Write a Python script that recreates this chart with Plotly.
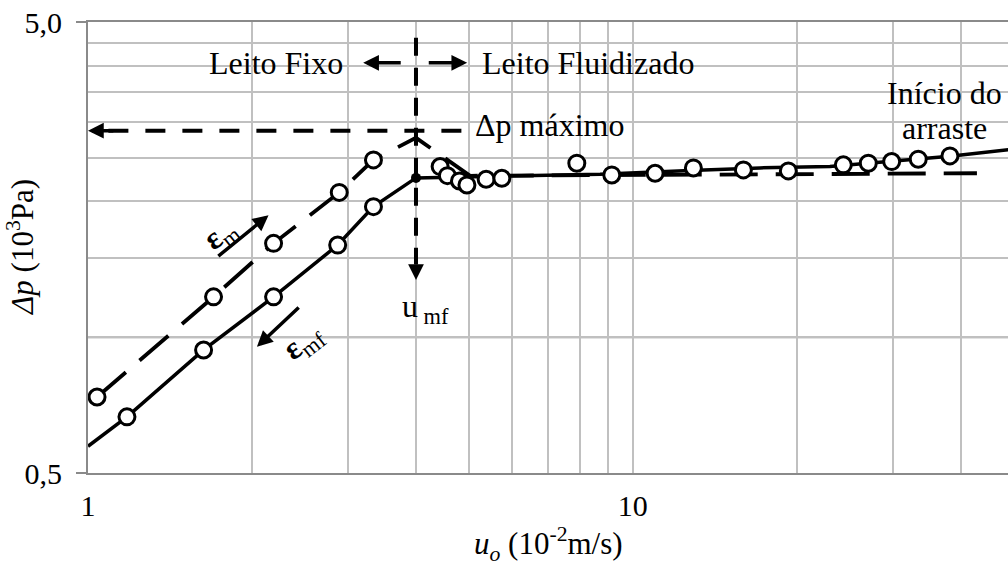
import math
import plotly.graph_objects as go

# ---- data -------------------------------------------------------------
# Fixed bed, increasing velocity (porosity εm)
u_fixo_m = [1.039, 1.700, 2.191, 2.892, 3.342]
dp_fixo_m = [0.737, 1.229, 1.615, 2.095, 2.473]

# Fixed bed, decreasing velocity (porosity εmf)
u_fixo_mf = [1.179, 1.630, 2.191, 2.873, 3.342]
dp_fixo_mf = [0.666, 0.937, 1.229, 1.601, 1.948]

# Minimum fluidization point and pressure-drop peak
u_mf = 4.0
dp_mf = 2.256
dp_pico = 2.768
dp_maximo = 2.87

# Fluidized bed measurements
u_fluid = [4.430, 4.568, 4.807, 4.961, 5.381, 5.750, 7.894, 9.151, 10.99,
           12.92, 15.96, 19.30, 24.35, 27.06, 29.87, 33.42, 38.21]
dp_fluid = [2.390, 2.282, 2.221, 2.176, 2.240, 2.252, 2.432, 2.290, 2.310,
            2.374, 2.350, 2.338, 2.411, 2.432, 2.452, 2.482, 2.524]

# Trend lines
u_linha_mf = [1.0] + u_fixo_mf + [u_mf, 5.708, 8.710, 12.74, 17.12, 23.01, 27.26, 38.21, 50.0]
dp_linha_mf = [0.573] + dp_fixo_mf + [dp_mf, 2.273, 2.297, 2.344, 2.374, 2.392, 2.432, 2.518, 2.612]

u_linha_m = u_fixo_m + [u_mf, 5.029, 14.46, 42.83]
dp_linha_m = dp_fixo_m + [dp_pico, 2.28, 2.29, 2.31]

# Axis ticks / grid
x_range = (1.0, 48.84)
y_range = (0.5, 5.0)
x_ticks = [1, 10]
x_ticktext = ["1", "10"]
x_grid = [2, 3, 4, 5, 6, 7, 8, 9, 20, 30, 40]
y_ticks = [0.5, 5.0]
y_ticktext = ["0,5", "5,0"]
y_grid = [1.0, 1.5, 2.0, 2.5, 3.0, 3.5, 4.0, 4.5]

# ---- style ------------------------------------------------------------
FONT = "Liberation Serif, Times New Roman, serif"
FS = 30      # tick labels
FS_TXT = 32  # annotations
FS_TIT = 31  # axis titles
GRID = "#c0c0c0"
AXIS = "#8a8a8a"
L = math.log10

fig = go.Figure()

fig.add_trace(go.Scatter(x=u_linha_mf, y=dp_linha_mf, mode="lines",
                         line=dict(color="black", width=3.5), hoverinfo="skip"))
fig.add_trace(go.Scatter(x=u_linha_m, y=dp_linha_m, mode="lines",
                         line=dict(color="black", width=3.8, dash="38px,18px"),
                         hoverinfo="skip"))

circle = dict(symbol="circle", size=16, color="white",
              line=dict(color="black", width=3))
fig.add_trace(go.Scatter(x=u_fixo_m, y=dp_fixo_m, mode="markers", marker=circle))
fig.add_trace(go.Scatter(x=u_fixo_mf, y=dp_fixo_mf, mode="markers", marker=circle))
fig.add_trace(go.Scatter(x=u_fluid, y=dp_fluid, mode="markers", marker=circle))
fig.add_trace(go.Scatter(x=[u_mf], y=[dp_mf], mode="markers",
                         marker=dict(symbol="circle", size=10, color="black")))

# ---- guide lines ------------------------------------------------------
shapes = [
    # horizontal axis crossing at Δp = 1
    dict(type="line", xref="paper", x0=0, x1=1, yref="y", y0=1, y1=1,
         line=dict(color=AXIS, width=2), layer="below"),
    # u_mf vertical dashed line
    dict(type="line", xref="x", x0=u_mf, x1=u_mf, yref="y", y0=4.614, y1=1.45,
         line=dict(color="black", width=4, dash="18px,12px")),
    # Δp máximo horizontal dashed line
    dict(type="line", xref="x", x0=1.09, x1=4.923, yref="y", y0=dp_maximo, y1=dp_maximo,
         line=dict(color="black", width=4, dash="20px,17px")),
]


def arrow(x, y, ax, ay):
    return dict(x=L(x), y=L(y), ax=L(ax), ay=L(ay), xref="x", yref="y",
                axref="x", ayref="y", text="", showarrow=True, arrowhead=2,
                arrowwidth=3.5, arrowsize=0.9, arrowcolor="black")


def label(text, x, y, angle=0, size=FS_TXT):
    return dict(x=L(x), y=L(y), xref="x", yref="y", text=text, showarrow=False,
                textangle=angle, font=dict(family=FONT, size=size, color="black"),
                xanchor="center", yanchor="middle")


annotations = [
    label("Leito Fixo", 2.211, 4.06),
    label("Leito Fluidizado", 8.264, 4.06),
    arrow(3.200, 4.06, 3.774, 4.06),
    arrow(4.966, 4.06, 4.195, 4.06),
    label("Δp máximo", 7.037, 2.956),
    arrow(1.0, dp_maximo, 1.12, dp_maximo),
    arrow(u_mf, 1.339, u_mf, 1.45),
    label("u<sub> mf</sub>", 4.157, 1.161),
    label("Início do", 37.41, 3.478),
    label("arraste", 37.33, 2.908),
    label("<b>ε</b><sub>m</sub>", 1.758, 1.690, angle=-38),
    arrow(2.145, 1.865, 1.724, 1.504),
    label("<b>ε</b><sub>mf</sub>", 2.489, 0.973, angle=-38),
    arrow(2.042, 0.952, 2.452, 1.172),
    # axis titles
    dict(x=-0.0735, y=0.5, xref="paper", yref="paper", showarrow=False,
         text="<i>Δp</i> (10<sup>3</sup>Pa)", textangle=-90,
         font=dict(family=FONT, size=FS_TIT, color="black"),
         xanchor="center", yanchor="middle"),
    dict(x=0.501, y=-0.158, xref="paper", yref="paper", showarrow=False,
         text="<i>u<sub>o</sub></i> (10<sup>-2</sup>m/s)",
         font=dict(family=FONT, size=FS_TIT, color="black"),
         xanchor="center", yanchor="middle"),
]

fig.update_layout(
    width=1008, height=565,
    margin=dict(l=88, r=0, t=22, b=92),
    paper_bgcolor="white", plot_bgcolor="white",
    showlegend=False,
    font=dict(family=FONT, size=FS, color="black"),
    shapes=shapes,
    annotations=annotations,
    xaxis=dict(
        type="log", range=[L(x_range[0]), L(x_range[1])],
        tickmode="array", tickvals=x_ticks, ticktext=x_ticktext,
        ticks="", ticklabelstandoff=5,
        showgrid=True, gridcolor=GRID, gridwidth=1.5,
        minor=dict(tickmode="array", tickvals=x_grid, showgrid=True,
                   gridcolor=GRID, gridwidth=1.5, ticks=""),
        showline=True, linecolor=AXIS, linewidth=2, mirror=True,
        zeroline=False, tickfont=dict(family=FONT, size=FS, color="black"),
    ),
    yaxis=dict(
        type="log", range=[L(y_range[0]), L(y_range[1])],
        tickmode="array", tickvals=y_ticks, ticktext=y_ticktext,
        ticks="outside", ticklen=10, tickwidth=2, tickcolor=AXIS,
        ticklabelstandoff=8,
        showgrid=True, gridcolor=AXIS, gridwidth=2,
        minor=dict(tickmode="array", tickvals=y_grid, showgrid=True,
                   gridcolor=GRID, gridwidth=1.5, ticks=""),
        showline=True, linecolor=AXIS, linewidth=2, mirror=False,
        zeroline=False, tickfont=dict(family=FONT, size=FS, color="black"),
    ),
)

fig.write_html("out.html")
